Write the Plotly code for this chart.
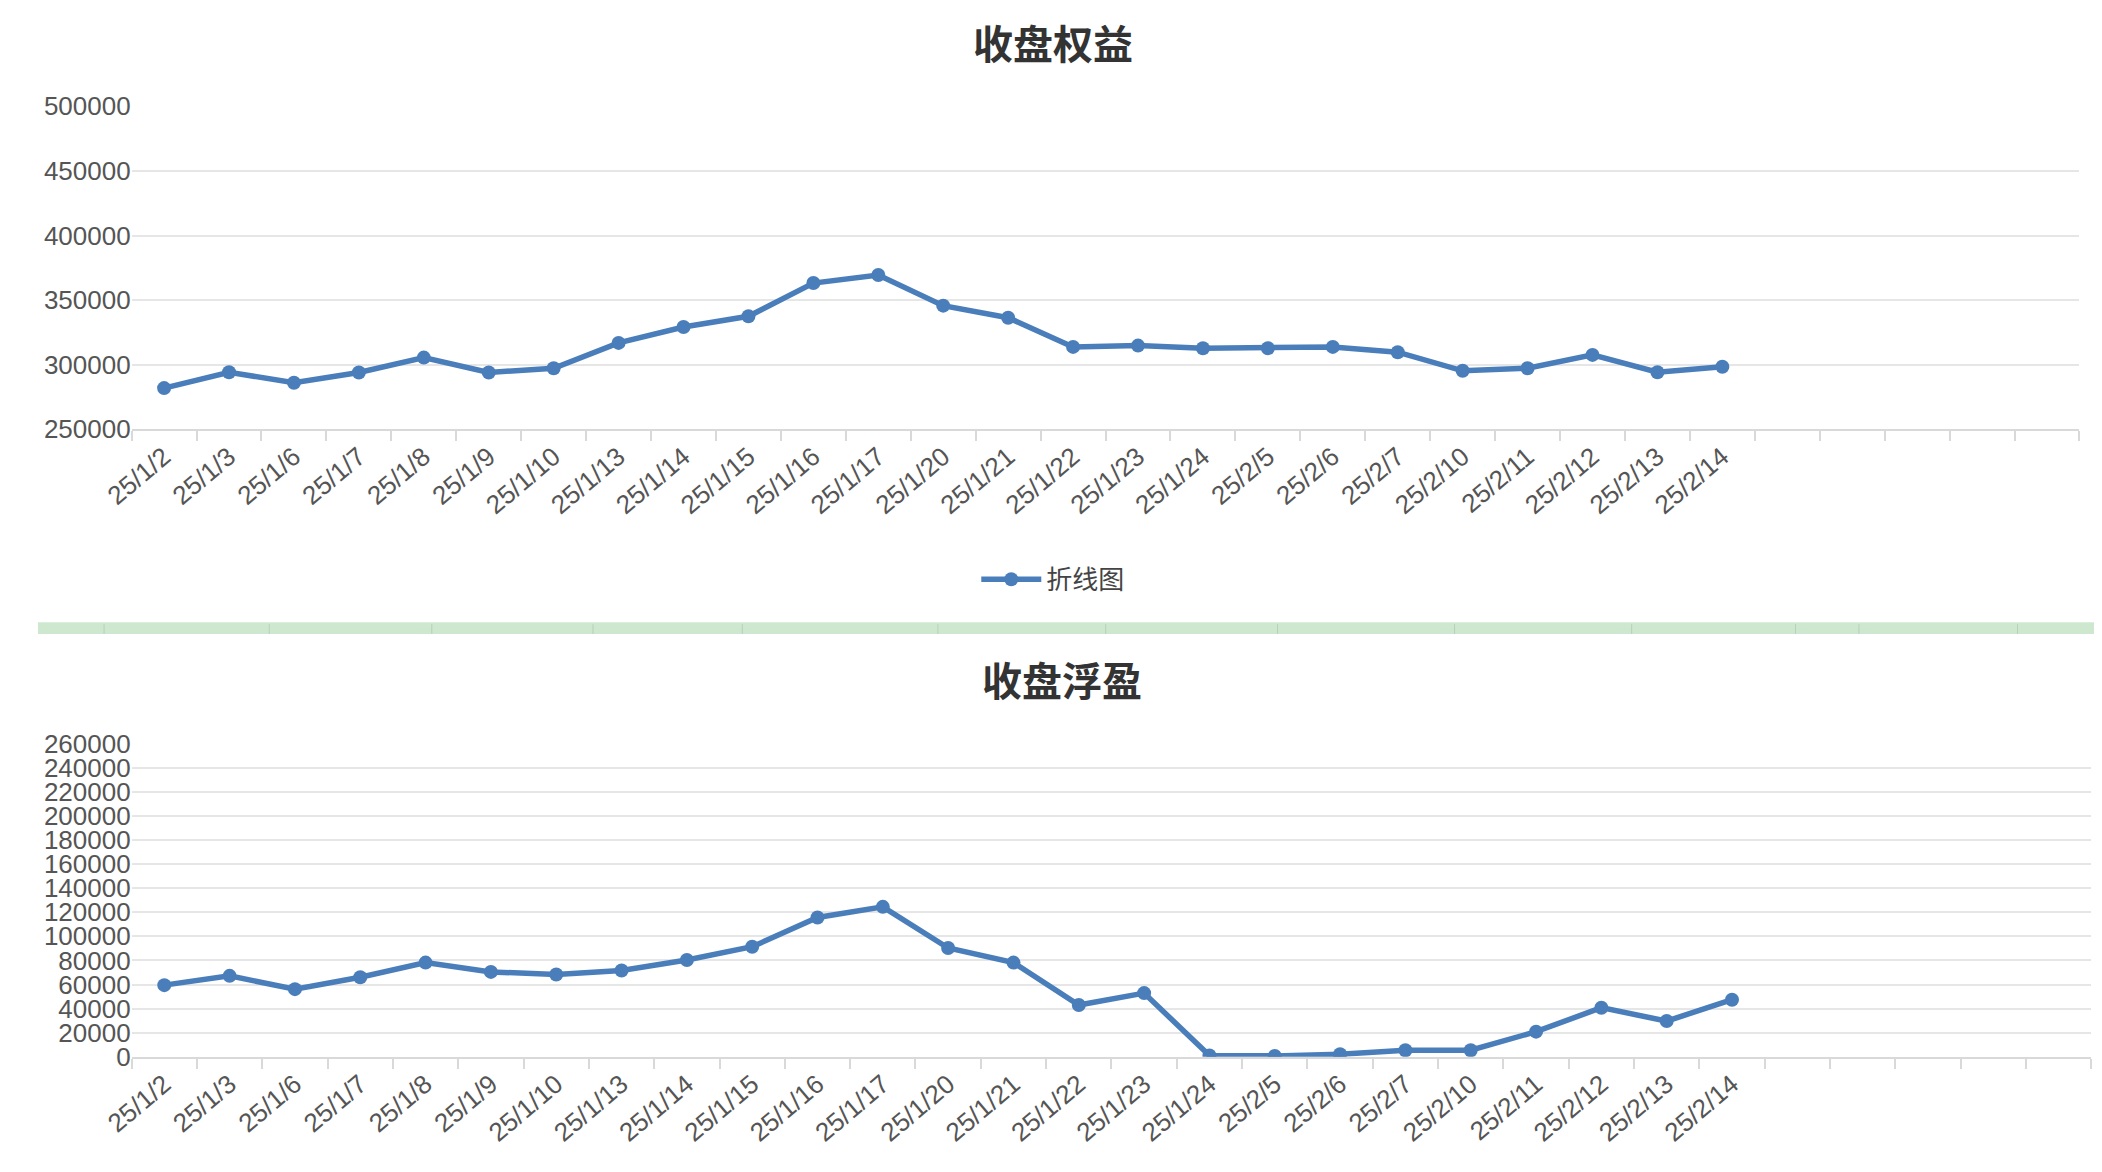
import plotly.graph_objects as go

dates = ["25/1/2","25/1/3","25/1/6","25/1/7","25/1/8","25/1/9","25/1/10","25/1/13","25/1/14","25/1/15",
         "25/1/16","25/1/17","25/1/20","25/1/21","25/1/22","25/1/23","25/1/24","25/2/5","25/2/6","25/2/7",
         "25/2/10","25/2/11","25/2/12","25/2/13","25/2/14"]
equity = [281900,294200,286000,294000,305500,294000,297300,316900,329200,337500,
          363200,369400,345700,336400,313800,314800,312800,312800,313800,309700,
          295300,297300,307600,294200,298400]
floating = [59500,67200,56200,66100,78200,70500,68300,71600,80400,91400,
            115700,124500,90300,78200,43000,52900,1100,800,2200,5500,
            5500,20900,40800,29700,47400]
n_slots = 30

color = "#4a7ebb"
idx = list(range(len(dates)))
fig = go.Figure()
fig.add_trace(go.Scatter(x=idx, y=equity, mode="lines+markers", name="折线图",
                         line=dict(color=color, width=5.5), marker=dict(size=14, color=color),
                         xaxis="x", yaxis="y"))
fig.add_trace(go.Scatter(x=idx, y=floating, mode="lines+markers", name="折线图", showlegend=False,
                         line=dict(color=color, width=5.5), marker=dict(size=14, color=color),
                         xaxis="x2", yaxis="y2"))

tickfont = dict(family="Liberation Sans, Arial", size=26, color="#555")
def xax(domain, anchor):
    return dict(domain=domain, anchor=anchor, range=[-0.5, n_slots-0.5], tickvals=idx, ticktext=dates,
                tickangle=-40, ticks="", showgrid=False, zeroline=False, showline=True,
                linecolor="#d9d9d9", linewidth=2, tickfont=tickfont,
                minor=dict(tick0=-0.5, dtick=1, ticks="outside", ticklen=10, tickcolor="#d9d9d9", tickwidth=2, showgrid=False))
def yax(domain, anchor, rng, dtick):
    return dict(domain=domain, anchor=anchor, range=rng, dtick=dtick, showgrid=True, gridcolor="#e6e6e6",
                gridwidth=2, zeroline=False, showline=False, tickfont=tickfont, ticks="", tickformat="d")

W, H = 2102, 1172
fig.update_layout(
    width=W, height=H, margin=dict(l=0, r=0, t=0, b=0),
    paper_bgcolor="white", plot_bgcolor="white",
    xaxis=xax([95/W, 2071/W], "y"),
    yaxis=yax([1-417/H, 1-85.5/H], "x", [250000, 500000], 50000),
    xaxis2=xax([95/W, 2083/W], "y2"),
    yaxis2=yax([1-1061/H, 1-739.5/H], "x2", [0, 260000], 20000),
    legend=dict(orientation="h", x=0.49, xanchor="center", y=1-571/H, yanchor="middle",
                font=dict(family="Noto Sans CJK SC", size=26, color="#444"), itemwidth=60),
    showlegend=True,
)
titlefont = dict(family="Noto Sans CJK SC", size=40, color="#333")
fig.add_annotation(text="<b>收盘权益</b>", x=0.49, y=1-19/H, xref="paper", yref="paper",
                   showarrow=False, font=titlefont, yanchor="middle")
fig.add_annotation(text="<b>收盘浮盈</b>", x=0.494, y=1-673/H, xref="paper", yref="paper",
                   showarrow=False, font=titlefont, yanchor="middle")
fig.add_shape(type="rect", xref="paper", yref="paper", x0=0, x1=1, y0=1-627/H, y1=1-615/H,
              fillcolor="#cde8cf", line=dict(width=0))
for xd in [50,175,298,420,533,681,808,938,1072,1206,1330,1378,1498]:
    fig.add_shape(type="line", xref="paper", yref="paper", x0=xd/1568, x1=xd/1568,
                  y0=1-627/H, y1=1-617/H, line=dict(color="#b8cfba", width=1))
fig.write_html("out.html")
